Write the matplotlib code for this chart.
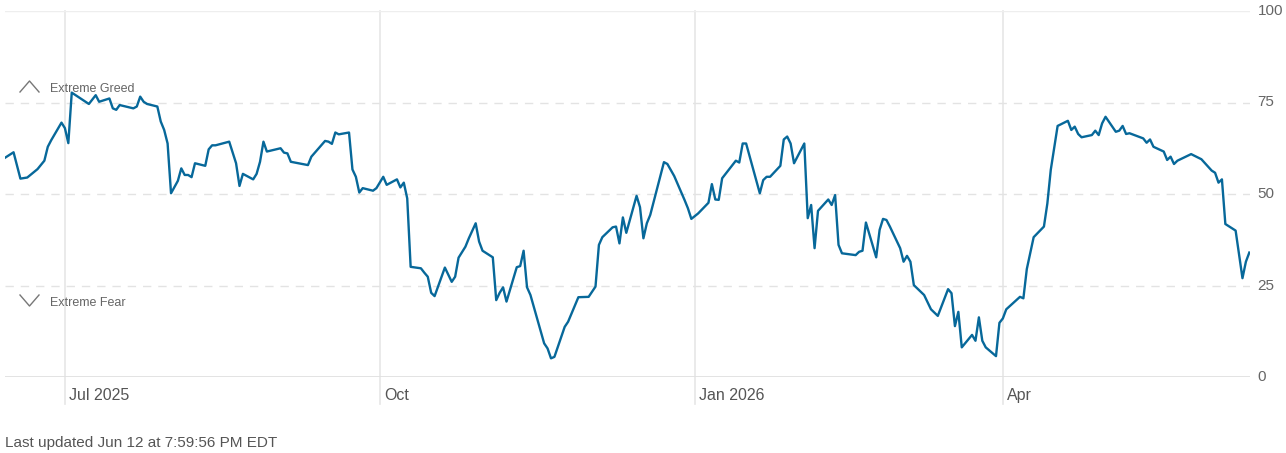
import numpy as np
import pandas as pd
import matplotlib
matplotlib.use("Agg")
import matplotlib.pyplot as plt
from matplotlib.lines import Line2D

plt.rcParams['font.family'] = ['Liberation Sans', 'DejaVu Sans']

# days after 1 Jul 2025, and the fear & greed index
days = [-18, -15, -13, -11, -8, -6, -5, -4, -1, 0, 1, 2, 7, 9, 10, 13, 14, 15, 16, 20,
        21, 22, 23, 24, 27, 28, 29, 30, 31, 33, 34, 35, 36, 37, 38, 41, 42, 43, 44, 48,
        50, 51, 52, 55, 56, 57, 58, 59, 63, 64, 65, 66, 71, 72, 76, 77, 78, 79, 80, 83,
        84, 85, 86, 87, 90, 91, 93, 94, 97, 98, 99, 100, 101, 104, 105, 106, 107, 108, 111, 113,
        114, 115, 117, 118, 120, 121, 122, 125, 126, 127, 128, 129, 132, 133, 134, 135, 136, 140, 141, 142,
        143, 146, 147, 150, 153, 155, 156, 157, 160, 161, 162, 163, 164, 167, 168, 169, 170, 171, 175, 176,
        178, 181, 182, 183, 185, 188, 189, 190, 191, 192, 196, 197, 198, 199, 203, 204, 205, 206, 209, 210,
        211, 212, 213, 216, 217, 218, 219, 220, 223, 224, 225, 226, 227, 231, 232, 233, 234, 237, 238, 239,
        240, 241, 244, 245, 246, 247, 248, 251, 253, 255, 258, 259, 260, 261, 262, 265, 266, 267, 268, 269,
        272, 273, 274, 275, 279, 280, 281, 283, 286, 287, 288, 290, 293, 294, 295, 296, 297, 300, 301, 302,
        303, 304, 307, 308, 309, 310, 311, 315, 316, 317, 318, 321, 322, 323, 324, 325, 329, 332, 335, 336,
        337, 338, 339, 342, 344, 345, 346]
index = [59.6, 61.4, 54.2, 54.5, 56.8, 59.1, 62.9, 64.7, 69.5, 68.0, 63.9, 77.7, 74.6, 77.0, 75.2, 76.1, 73.4, 73.0, 74.3, 73.4,
         73.9, 76.6, 75.2, 74.6, 73.9, 69.8, 67.5, 63.8, 50.2, 53.6, 57.0, 55.2, 55.2, 54.6, 58.4, 57.7, 62.2, 63.3, 63.3, 64.3,
         58.4, 52.2, 55.5, 54.0, 55.5, 58.8, 64.3, 61.6, 62.5, 61.3, 61.1, 58.8, 57.9, 60.2, 64.5, 64.3, 63.7, 66.8, 66.3, 66.8,
         56.7, 54.7, 50.4, 51.6, 50.9, 51.6, 54.7, 52.5, 54.0, 51.8, 53.1, 48.8, 30.1, 29.7, 28.5, 27.4, 23.0, 22.1, 29.9, 26.0,
         27.4, 32.6, 35.6, 37.9, 42.0, 37.0, 34.5, 32.7, 21.0, 23.0, 24.5, 20.6, 30.0, 30.3, 34.5, 24.5, 22.4, 9.2, 7.8, 5.1,
         5.5, 13.7, 15.1, 21.8, 21.9, 24.7, 36.1, 38.2, 40.9, 41.1, 36.5, 43.6, 39.4, 49.5, 46.4, 37.9, 42.0, 44.3, 58.7, 58.2,
         54.9, 48.4, 46.1, 43.2, 44.7, 47.6, 52.7, 48.5, 48.4, 54.3, 59.1, 58.6, 63.8, 63.8, 50.2, 53.8, 54.7, 54.7, 57.7, 64.9,
         65.7, 63.8, 58.4, 63.8, 43.4, 47.0, 35.2, 45.4, 48.5, 47.0, 49.7, 36.1, 33.8, 33.3, 34.2, 34.5, 42.2, 32.7, 40.2, 43.2,
         42.9, 41.1, 35.2, 31.5, 33.1, 31.5, 25.1, 22.4, 18.5, 16.7, 24.0, 22.9, 13.9, 17.8, 8.1, 11.5, 9.9, 16.3, 9.9, 8.1,
         5.7, 14.8, 16.0, 18.5, 21.9, 21.5, 29.5, 38.2, 41.1, 47.4, 56.6, 68.6, 70.0, 67.5, 68.4, 66.4, 65.5, 66.1, 67.3, 66.1,
         69.3, 71.1, 67.0, 67.3, 68.6, 66.4, 66.6, 65.2, 64.0, 64.9, 62.9, 61.6, 59.3, 60.2, 58.2, 59.1, 60.9, 59.5, 56.4, 55.8,
         53.1, 54.0, 41.8, 40.0, 27.0, 31.5, 34.0]

month_ticks = ['2025-07-01', '2025-10-01', '2026-01-01', '2026-04-01']
month_labels = ['Jul 2025', 'Oct', 'Jan 2026', 'Apr']
y_ticks = [0, 25, 50, 75, 100]

start = pd.Timestamp('2025-07-01')
dates = start + pd.to_timedelta(days, unit='D')
tick_dates = pd.to_datetime(month_ticks)

W, H = 1286, 453
fig = plt.figure(figsize=(W / 100, H / 100), dpi=100)
ax = fig.add_axes([5 / W, 1 - 377 / H, 1245 / W, 366 / H])

ax.set_xlim(start - pd.Timedelta(days=17.5), start + pd.Timedelta(days=346.2))
ax.set_ylim(0, 100)
for s in ax.spines.values():
    s.set_visible(False)
ax.set_xticks([])
ax.set_yticks([])

grid = '#e6e6e6'
for t in tick_dates:
    ax.plot([t, t], [100, -7.5], color=grid, lw=1.2, clip_on=False, zorder=1)
for v in y_ticks:
    if v in (0, 100):
        ax.axhline(v, color='#e0e0e0' if v == 0 else '#eeeeee', lw=2.0 if v == 0 else 1.0, zorder=1)
    else:
        ax.axhline(v, color='#e3e3e3', lw=1.0, ls=(0, (6, 5)), zorder=1)
    ax.text(1.006, v, str(v), transform=ax.get_yaxis_transform(), ha='left', va='center',
            fontsize=11, color='#666666')

for t, lab in zip(tick_dates, month_labels):
    ax.text(t + pd.Timedelta(days=1.3), -5.0, lab, ha='left', va='center', fontsize=11.5, color='#555555')

ax.plot(dates, index, color='#07689a', lw=1.7, zorder=3)

# zone markers on the left
def px(x, y):
    return x / W, 1 - y / H

for pts in ([(20, 92), (29.5, 81), (39, 92)], [(20, 295), (29.5, 306), (39, 295)]):
    xs, ys = zip(*[px(*p) for p in pts])
    fig.add_artist(Line2D(xs, ys, color='#777777', lw=1.0))
fig.text(*px(50, 89), 'Extreme Greed', ha='left', va='center', fontsize=9, color='#666666')
fig.text(*px(50, 303), 'Extreme Fear', ha='left', va='center', fontsize=9, color='#666666')

fig.text(*px(5, 443), 'Last updated Jun 12 at 7:59:56 PM EDT', ha='left', va='center',
         fontsize=11, color='#555555')

fig.savefig('out.png', dpi=100)
